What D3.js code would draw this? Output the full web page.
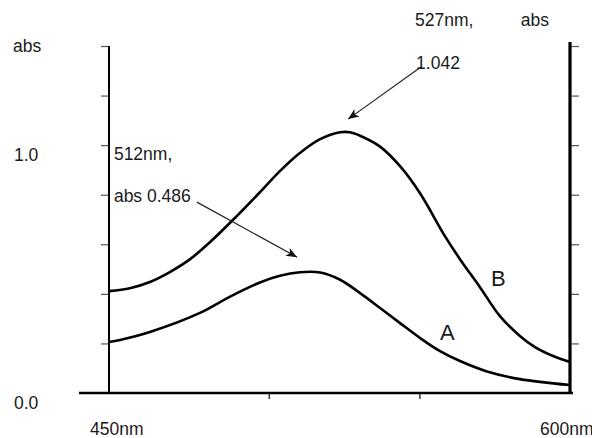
<!DOCTYPE html>
<html><head><meta charset="utf-8">
<script src="https://cdn.jsdelivr.net/npm/d3@7"></script>
<style>
body{margin:0;background:#fff;}
text{font-family:"Liberation Sans",Arial,sans-serif;fill:#1a1a1a;}
</style></head>
<body><svg id="c" width="592" height="438"></svg>
<script>
// wavelengths (nm) and absorbances
const wlB = [450,456.8,463.3,469.8,476.4,482.9,490.3,499.1,505.6,512.1,518.7,525.2,528.4,531.7,538.2,544.7,551.2,559.3,564.2,570.7,577.2,583.7,588.6,594.5,600];
const absB = [0.411,0.423,0.448,0.488,0.540,0.609,0.698,0.810,0.895,0.968,1.024,1.052,1.052,1.038,0.994,0.915,0.806,0.633,0.540,0.427,0.310,0.230,0.185,0.149,0.125];
const wlA = [450,453.6,463.3,479.6,489.4,499.1,505.6,512.1,518.7,525.2,531.7,538.2,544.7,551.2,557.7,564.2,573.0,583.7,600];
const absA = [0.206,0.214,0.246,0.323,0.389,0.446,0.473,0.487,0.486,0.457,0.403,0.343,0.282,0.222,0.169,0.129,0.087,0.056,0.032];
const yTicks = [0.2,0.4,0.6,0.8,1.0,1.2,1.4];
const xTicks = [502,551];
const yTickLabels = [{v:1.0,t:"1.0"},{v:0.0,t:"0.0"}];
const xTickLabels = [{v:450,t:"450nm"},{v:600,t:"600nm"}];
const curveLabels = [{t:"B",x:574.3,y:0.431},{t:"A",x:557.7,y:0.214}];
const notes = [
  {lines:["527nm,","1.042"], x:549.6, y:1.48, extra:{t:"abs", x:584}},
  {lines:["512nm,","abs 0.486"], x:451.6, y:0.94}
];
const arrows = [
  {x1:551.5,y1:1.315,x2:527.8,y2:1.105},
  {x1:478.6,y1:0.770,x2:511.2,y2:0.548}
];

const svg = d3.select("#c");
const x = d3.scaleLinear().domain([450,600]).range([109,570]);
const y = d3.scaleLinear().domain([0,1.4]).range([393,46]);

svg.append("defs").append("marker")
  .attr("id","ah").attr("viewBox","-12 -6 14 12").attr("refX",0).attr("refY",0)
  .attr("markerWidth",14).attr("markerHeight",12).attr("markerUnits","userSpaceOnUse")
  .attr("orient","auto")
  .append("path").attr("d","M0,0 L-11,-4.5 L-8,0 L-11,4.5 Z").attr("fill","#111");

// left axis
const gl = svg.append("g").attr("transform",`translate(${x(450)},0)`)
  .call(d3.axisLeft(y).tickValues(yTicks).tickSize(8).tickSizeOuter(0).tickFormat(""));
gl.select(".domain").remove();
gl.selectAll(".tick line").attr("stroke","#555").attr("stroke-width",1.2);
svg.append("line").attr("x1",x(450)).attr("x2",x(450)).attr("y1",y(1.4)).attr("y2",y(0))
  .attr("stroke","#000").attr("stroke-width",2);

// right axis
const gr = svg.append("g").attr("transform",`translate(${x(600)},0)`)
  .call(d3.axisRight(y).tickValues(yTicks).tickSize(9).tickSizeOuter(0).tickFormat(""));
gr.select(".domain").remove();
gr.selectAll(".tick line").attr("stroke","#555").attr("stroke-width",1.2);
svg.append("line").attr("x1",x(600)).attr("x2",x(600)).attr("y1",y(1.4)-4).attr("y2",y(0)+1)
  .attr("stroke","#000").attr("stroke-width",3.2);

// bottom axis
const gb = svg.append("g").attr("transform",`translate(0,${y(0)})`)
  .call(d3.axisBottom(x).tickValues(xTicks).tickSize(6).tickSizeOuter(0).tickFormat(""));
gb.select(".domain").remove();
gb.selectAll(".tick line").attr("stroke","#333").attr("stroke-width",1.5);
svg.append("line").attr("x1",x(450)-30).attr("x2",x(600)+3).attr("y1",y(0)).attr("y2",y(0))
  .attr("stroke","#000").attr("stroke-width",2.5);

// labels
svg.append("text").attr("x",13).attr("y",y(1.4)+6).attr("font-size",17.5).text("abs");
yTickLabels.forEach(d=>svg.append("text").attr("x",14).attr("y",y(d.v)+16).attr("font-size",17.5).text(d.t));
xTickLabels.forEach((d,i)=>svg.append("text").attr("x",x(d.v)+(i===0?-19:-30)).attr("y",435).attr("font-size",17.5).text(d.t));

// curves
const line = d3.line().x(d=>x(d[0])).y(d=>y(d[1])).curve(d3.curveCatmullRom.alpha(0.5));
[[wlB,absB],[wlA,absA]].forEach(([w,a])=>{
  svg.append("path").datum(w.map((v,i)=>[v,a[i]])).attr("d",line)
    .attr("fill","none").attr("stroke","#000").attr("stroke-width",2.6).attr("stroke-linejoin","round");
});

curveLabels.forEach(d=>svg.append("text").attr("x",x(d.x)).attr("y",y(d.y)).attr("font-size",22).text(d.t));

// annotations
notes.forEach(n=>{
  n.lines.forEach((t,i)=>svg.append("text").attr("x",x(n.x)+(i===1&&n.extra?1:0))
    .attr("y",y(n.y)+i*(n.extra?43:42)).attr("font-size",17.5).text(t));
  if(n.extra) svg.append("text").attr("x",x(n.extra.x)).attr("y",y(n.y)).attr("font-size",17.5).text(n.extra.t);
});
arrows.forEach(a=>svg.append("line").attr("x1",x(a.x1)).attr("y1",y(a.y1)).attr("x2",x(a.x2)).attr("y2",y(a.y2))
  .attr("stroke","#222").attr("stroke-width",1.2).attr("marker-end","url(#ah)"));
</script></body></html>
